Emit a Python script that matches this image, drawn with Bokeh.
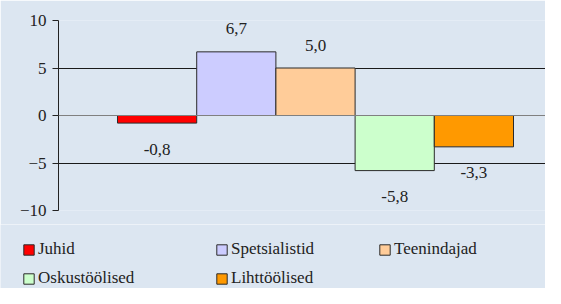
from bokeh.plotting import figure
from bokeh.models import (ColumnDataSource, Range1d, FixedTicker, Span, LabelSet,
                          Legend, LegendItem)
from bokeh.embed import file_html
from bokeh.resources import INLINE

categories = ["Juhid", "Spetsialistid", "Teenindajad", "Oskustöölised", "Lihttöölised"]
values = [-0.8, 6.7, 5.0, -5.8, -3.3]
colors = ["#ff0000", "#ccccff", "#ffcc99", "#ccffcc", "#ff9900"]
y_ticks = [-10, -5, 0, 5, 10]

BG = "#dce6f1"
FONT = "Liberation Serif"

xs = list(range(len(categories)))
labels = [f"{v:.1f}".replace(".", ",") for v in values]
offsets = [23 if v > 0 else -26 for v in values]

source = ColumnDataSource(dict(x=xs, top=values, color=colors, label=labels, off=offsets))

p = figure(width=545, height=224, output_backend="svg", toolbar_location=None,
           x_range=Range1d(-1.245, 4.904), y_range=Range1d(-10, 10),
           min_border_left=58, min_border_right=0, min_border_top=20, min_border_bottom=14)
p.background_fill_color = BG
p.border_fill_color = BG
p.outline_line_color = None

r = p.vbar(x="x", top="top", bottom=0, width=1.0, fill_color="color",
           line_color="#2a2a2a", line_width=1, source=source)

p.xaxis.visible = False
p.xgrid.visible = False

ax = p.yaxis[0]
ax.ticker = FixedTicker(ticks=y_ticks)
ax.axis_line_color = "#222222"
ax.major_tick_line_color = "#222222"
ax.major_tick_out = 6
ax.major_tick_in = 0
ax.minor_tick_line_color = None
ax.major_label_standoff = 6
ax.major_label_text_font = FONT
ax.major_label_text_font_size = "17px"
ax.major_label_text_color = "#222222"

p.ygrid.ticker = FixedTicker(ticks=[t for t in y_ticks if t != 0])
p.ygrid.grid_line_color = "#1a1a1a"
p.ygrid.grid_line_width = 1

zero = Span(location=0, dimension="width", line_color="#808080", line_width=1)
p.add_layout(zero)

lbl = LabelSet(x="x", y="top", text="label", y_offset="off", source=source,
               text_align="center", text_baseline="middle",
               text_font=FONT, text_font_size="17px", text_color="#222222")
p.add_layout(lbl)

# legend strip: same data, bars kept out of view
lg = figure(width=545, height=64, output_backend="svg", toolbar_location=None,
            x_range=Range1d(0, 1), y_range=Range1d(100, 200),
            x_axis_location=None, y_axis_location=None,
            min_border_left=0, min_border_right=0, min_border_top=0, min_border_bottom=0)
lg.grid.visible = False
lg.background_fill_color = BG
lg.border_fill_color = BG
lg.outline_line_color = None
r2 = lg.vbar(x="x", top="top", bottom=0, width=1.0, fill_color="color",
             line_color="#2a2a2a", line_width=1, source=source)

columns_idx = [[0, 3], [1, 4], [2]]
col_x = [22, 215, 378]
for idxs, lx in zip(columns_idx, col_x):
    items = [LegendItem(label=categories[i], renderers=[r2], index=i) for i in idxs]
    leg = Legend(items=items, location=(lx, 0 if len(idxs) == 2 else 29),
                 orientation="vertical", glyph_width=13, glyph_height=13,
                 label_standoff=3, spacing=9, padding=0, margin=0,
                 label_text_font=FONT, label_text_font_size="17px",
                 label_text_color="#222222", border_line_color=None,
                 background_fill_alpha=0)
    lg.add_layout(leg, "center")

open("out.html", "w").write(file_html([p, lg], INLINE))
